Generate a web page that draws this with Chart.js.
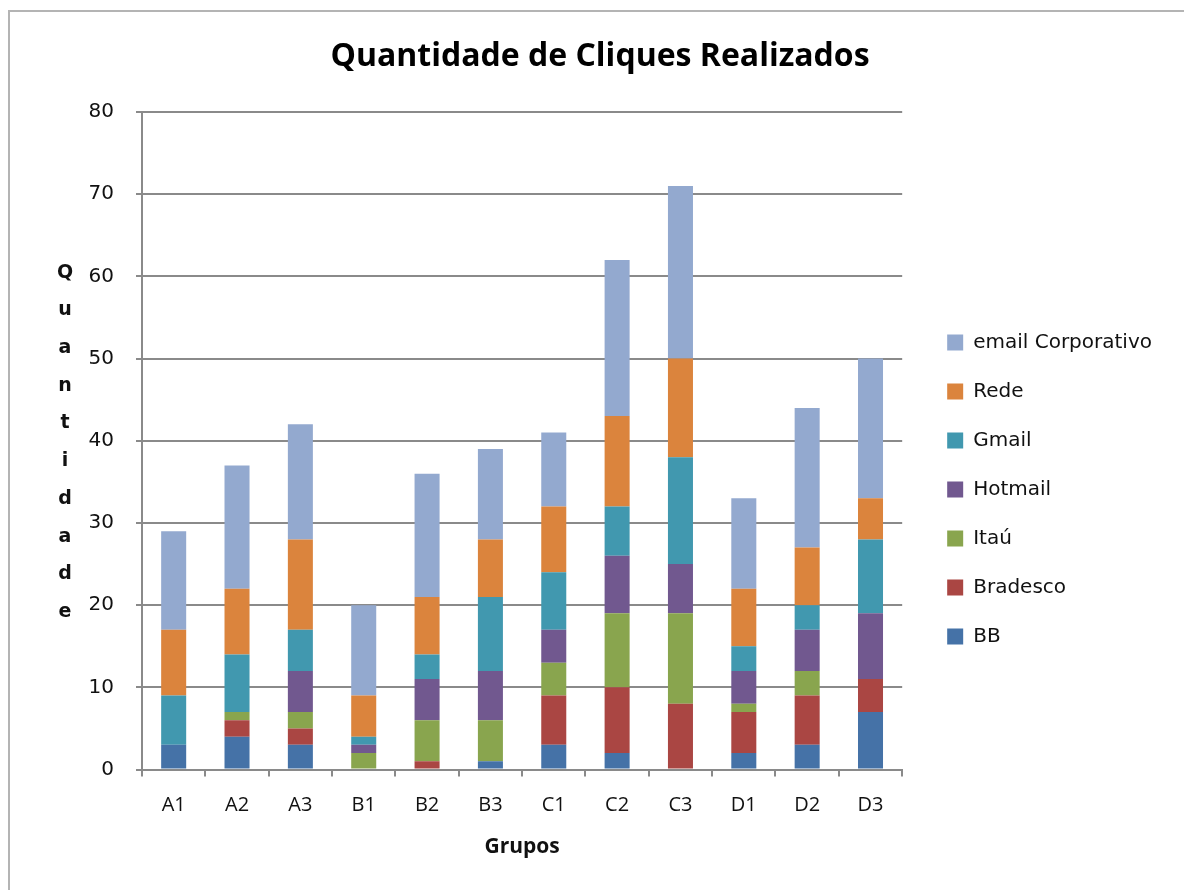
<!DOCTYPE html>
<html>
<head>
<meta charset="utf-8">
<script src="https://cdn.jsdelivr.net/npm/chart.js@4.4.1/dist/chart.umd.min.js"></script>
<style>
  html, body { margin: 0; padding: 0; background: #fff; overflow: hidden; }
  #wrap { position: relative; width: 1184px; height: 890px; }
  #frame { position: absolute; left: 8px; top: 10px; width: 1300px; height: 1000px;
           border-top: 2px solid #b4b4b4; border-left: 2px solid #b4b4b4; pointer-events: none; }
  canvas { position: absolute; left: 0; top: 0; }
</style>
</head>
<body>
<div id="wrap">
  <canvas id="c" width="1184" height="890"></canvas>
  <div id="frame"></div>
</div>
<script>
const categories = ['A1','A2','A3','B1','B2','B3','C1','C2','C3','D1','D2','D3'];
const BB        = [3, 4, 3, 0, 0, 1, 3, 2, 0, 2, 3, 7];
const Bradesco  = [0, 2, 2, 0, 1, 0, 6, 8, 8, 5, 6, 4];
const Itau      = [0, 1, 2, 2, 5, 5, 4, 9, 11, 1, 3, 0];
const Hotmail   = [0, 0, 5, 1, 5, 6, 4, 7, 6, 4, 5, 8];
const Gmail     = [6, 7, 5, 1, 3, 9, 7, 6, 13, 3, 3, 9];
const Rede      = [8, 8, 11, 5, 7, 7, 8, 11, 12, 7, 7, 5];
const emailCorp = [12, 15, 14, 11, 15, 11, 9, 19, 21, 11, 17, 17];
const yTicks = [0, 10, 20, 30, 40, 50, 60, 70, 80];

const chartTitle = 'Quantidade de Cliques Realizados';
const xTitle = 'Grupos';
const yTitle = 'Quantidade';

const NARROW = '"Open Sans", sans-serif';
const WIDE = '"DejaVu Sans", Verdana, sans-serif';

// measure legend text to size the layout
const legPad = 29, legBox = 16, legFont = 20;
const mctx = document.createElement('canvas').getContext('2d');
mctx.font = legFont + 'px ' + WIDE;
const legendTextW = mctx.measureText('email Corporativo').width;
const legendWidth = legPad + legBox + legFont / 2 + legendTextW + 10;
const gapW = 947 - legPad - 902;
const R = Math.max(0, Math.round(1184 - 902 - gapW - legendWidth));
const L = R + 16;

const yTitlePlugin = {
  id: 'yTitleStacked',
  afterDraw(chart) {
    const ctx = chart.ctx, ca = chart.chartArea;
    ctx.save();
    ctx.font = 'bold 19px ' + WIDE;
    ctx.fillStyle = '#111';
    ctx.textAlign = 'center';
    ctx.textBaseline = 'alphabetic';
    const step = 37.7;
    const mid = (ca.top + ca.bottom) / 2 + 6.5;
    const n = yTitle.length;
    for (let i = 0; i < n; i++) {
      ctx.fillText(yTitle[i], ca.left - 77, mid + (i - (n - 1) / 2) * step);
    }
    ctx.restore();
  }
};

const mk = (label, data, color) => ({ label, data, backgroundColor: color, borderWidth: 0,
  categoryPercentage: 1.0, barPercentage: 0.395 });

new Chart(document.getElementById('c'), {
  type: 'bar',
  data: {
    labels: categories,
    datasets: [
      mk('BB', BB, '#4572A7'),
      mk('Bradesco', Bradesco, '#AA4643'),
      mk('Itaú', Itau, '#89A54E'),
      mk('Hotmail', Hotmail, '#71588F'),
      mk('Gmail', Gmail, '#4198AF'),
      mk('Rede', Rede, '#DB843D'),
      mk('email Corporativo', emailCorp, '#93A9CF')
    ]
  },
  options: {
    responsive: false,
    animation: false,
    layout: { padding: { top: 0, bottom: 0, left: L, right: R } },
    plugins: {
      tooltip: { enabled: false },
      title: {
        display: true, text: chartTitle, color: '#000',
        font: { family: NARROW, size: 32, weight: 'bold', lineHeight: 1.2 },
        padding: { top: 37.8, bottom: 35.8 }
      },
      legend: {
        position: 'right', reverse: true, align: 'center', maxWidth: 400,
        title: { display: true, text: ' ', font: { size: 10, lineHeight: 1.2 }, padding: 38.5 },
        labels: {
          boxWidth: legBox, boxHeight: legBox, padding: legPad, color: '#111',
          font: { family: WIDE, size: legFont }
        }
      }
    },
    scales: {
      x: {
        stacked: true,
        grid: { display: true, drawOnChartArea: false, drawTicks: true, tickLength: 7, color: '#8a8a8a', lineWidth: 2, offset: true },
        border: { display: true, color: '#8a8a8a', width: 2 },
        ticks: { color: '#111', padding: 17, font: { family: NARROW, size: 20 } },
        title: { display: true, text: xTitle, color: '#111', font: { family: NARROW, size: 21, weight: 'bold', lineHeight: 1.2 }, padding: { top: 4, bottom: 30.5 } },
        afterFit(s) { s.height = 120.5; }
      },
      y: {
        stacked: true, min: 0, max: 80,
        afterBuildTicks(s) { s.ticks = yTicks.map(v => ({ value: v })); },
        grid: { color: '#8a8a8a', lineWidth: 2, tickLength: 6, drawTicks: true },
        border: { display: true, color: '#8a8a8a', width: 2 },
        ticks: { color: '#111', padding: 22, font: { family: WIDE, size: 20 } },
        afterFit(s) { s.width = 142 - L; }
      },
      pad: {
        type: 'linear', position: 'right', display: true,
        grid: { display: false }, border: { display: false }, ticks: { display: false },
        afterFit(s) { s.width = gapW; }
      }
    }
  },
  plugins: [yTitlePlugin]
});
</script>
</body>
</html>
